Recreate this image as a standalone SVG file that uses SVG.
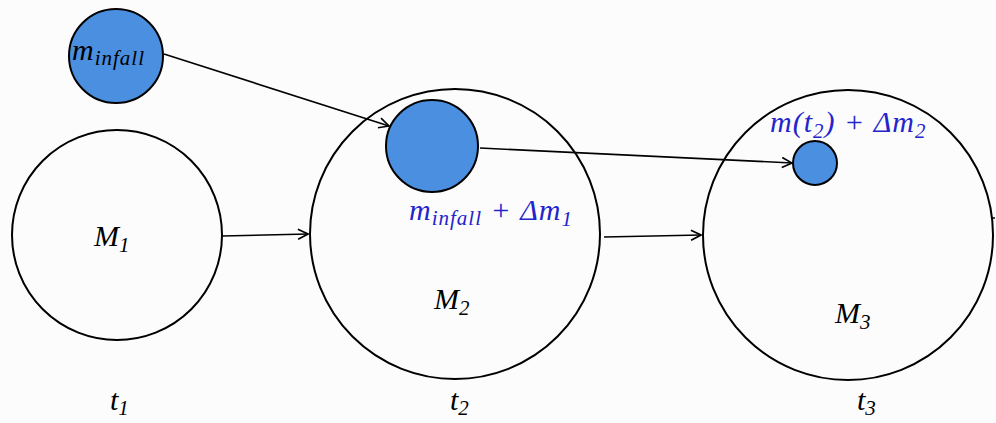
<svg xmlns="http://www.w3.org/2000/svg" width="996" height="423" viewBox="0 0 996 423">
<defs>
<style>
.big{fill:none;stroke:#000;stroke-width:2}
.blob{fill:#4a8fe0;stroke:#000;stroke-width:2}
.con{fill:none;stroke:#000;stroke-width:1.6;marker-end:url(#arr)}
text{font-family:"Liberation Serif","DejaVu Serif",serif;font-style:italic;font-size:30px;fill:#000}
.sub{font-size:21px}
.bl{fill:#2424cc}
</style>
<marker id="arr" viewBox="0 0 12 12" refX="11" refY="6" markerWidth="12" markerHeight="12" markerUnits="userSpaceOnUse" orient="auto">
<path d="M1,1 L11,6 L1,11" fill="none" stroke="#000" stroke-width="1.6"/>
</marker>
</defs>
<rect width="996" height="423" fill="#fcfcfc"/>
<g id="connectors">
<line class="con" x1="164" y1="54" x2="389" y2="126"/>
<line class="con" x1="222" y1="236" x2="308" y2="234"/>
<line class="con" x1="604" y1="237" x2="701" y2="235"/>
<line class="con" x1="480" y1="148" x2="792" y2="163"/>
</g>
<g id="M1">
<circle class="big" cx="117" cy="235" r="105"/>
<text x="94" y="246">M<tspan class="sub" dy="6">1</tspan></text>
</g>
<g id="M2">
<circle class="big" cx="455" cy="234" r="145"/>
<text x="434" y="309">M<tspan class="sub" dy="6">2</tspan></text>
</g>
<g id="M3">
<circle class="big" cx="848" cy="235" r="145"/>
<text x="835" y="323">M<tspan class="sub" dy="6">3</tspan></text>
<line x1="992" y1="218" x2="995" y2="218" stroke="#000" stroke-width="1.5"/>
</g>
<g id="minfall">
<circle class="blob" cx="116" cy="56" r="47"/>
<text x="72" y="60" letter-spacing="1">m<tspan class="sub" dy="5">infall</tspan></text>
</g>
<g id="sat2">
<circle class="blob" cx="432" cy="146" r="46"/>
<text class="bl" x="409" y="220" letter-spacing="1">m<tspan class="sub" dy="5">infall</tspan><tspan dy="-5"> + Δm</tspan><tspan class="sub" dy="6">1</tspan></text>
</g>
<g id="sat3">
<circle class="blob" cx="815" cy="163" r="22"/>
<text class="bl" x="770" y="132" letter-spacing="1">m(t<tspan class="sub" dy="6">2</tspan><tspan dy="-6">) + Δm</tspan><tspan class="sub" dy="6">2</tspan></text>
</g>
<g id="times">
<text x="110" y="410">t<tspan class="sub" dy="5">1</tspan></text>
<text x="450" y="410">t<tspan class="sub" dy="5">2</tspan></text>
<text x="857" y="410">t<tspan class="sub" dy="5">3</tspan></text>
</g>
</svg>
